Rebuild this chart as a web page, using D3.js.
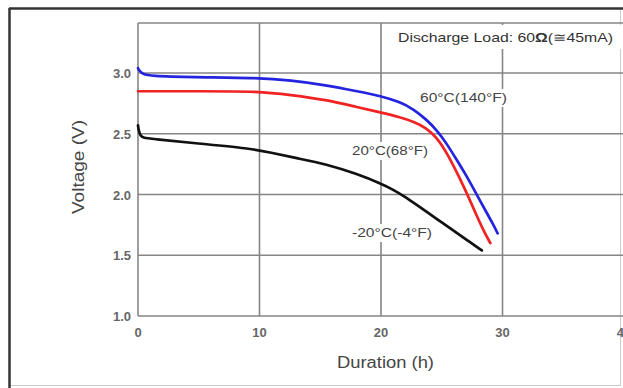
<!DOCTYPE html>
<html><head><meta charset="utf-8">
<script src="https://cdn.jsdelivr.net/npm/d3@7"></script>
<style>body{margin:0;background:#fff}svg{display:block}</style>
</head><body>
<svg id="c" width="623" height="388"></svg>
<script>
const xTicks = [0, 10, 20, 30, 40];
const yTicks = [1.0, 1.5, 2.0, 2.5, 3.0];
const seriesNames = ["60°C(140°F)", "20°C(68°F)", "-20°C(-4°F)"];
const seriesColors = ["#2424e0", "#f02222", "#111111"];
const hot60 = [[0,3.04],[0.1,3.02],[0.4,2.99],[1,2.975],[4.3,2.965],[10,2.96],[12.5,2.94],[15.5,2.90],[18,2.85],[20,2.81],[21.6,2.76],[22.7,2.70],[23.7,2.62],[24.6,2.53],[25.4,2.42],[26.2,2.29],[27,2.16],[27.6,2.05],[28.2,1.94],[28.7,1.85],[29.2,1.76],[29.6,1.68],[29.6,1.68]];
const room20 = [[0,2.85],[0.5,2.85],[5,2.85],[10,2.85],[12.5,2.82],[15.5,2.78],[18,2.72],[20,2.675],[21.6,2.635],[22.7,2.60],[23.7,2.55],[24.6,2.47],[25.5,2.33],[26.5,2.13],[27.2,1.98],[27.9,1.82],[28.5,1.69],[29.0,1.60],[29.0,1.60]];
const cold20 = [[0,2.57],[0.05,2.53],[0.2,2.48],[0.5,2.465],[1,2.46],[4.9,2.42],[9.2,2.38],[10.9,2.345],[13,2.30],[15.5,2.25],[18,2.17],[20,2.09],[21,2.04],[22,1.98],[23,1.91],[24,1.84],[25,1.77],[26,1.70],[27,1.63],[28.3,1.54],[28.3,1.54]];
const series = [hot60, room20, cold20];
const titleParts = ["Discharge Load: 60", "Ω", "(≅45mA)"];
const xLabel = "Duration (h)";
const yLabel = "Voltage (V)";

const svg = d3.select("#c");
const font = "Liberation Sans, Arial, sans-serif";
const L = 138, R = 624, T = 23, B = 316;
const x = d3.scaleLinear().domain([0, 40]).range([L, R]);
const y = d3.scaleLinear().domain([1.0, 3.0]).range([B, 73]);

// outer frame
svg.append("rect").attr("x", 9.5).attr("y", 8.5).attr("width", 611).attr("height", 377)
  .attr("fill", "none").attr("stroke", "#ccc").attr("stroke-width", 1);
svg.append("line").attr("x1", 9.5).attr("x2", 9.5).attr("y1", 8).attr("y2", 388).attr("stroke", "#333").attr("stroke-width", 2.5);
svg.append("line").attr("x1", 9).attr("x2", 623).attr("y1", 8.5).attr("y2", 8.5).attr("stroke", "#333").attr("stroke-width", 2.5);

const g = svg.append("g");
const gridCol = "#858585";
g.selectAll(".vg").data(xTicks).join("line")
  .attr("x1", d => x(d)).attr("x2", d => x(d)).attr("y1", T).attr("y2", B)
  .attr("stroke", gridCol).attr("stroke-width", 1.6);
g.selectAll(".hg").data(yTicks).join("line")
  .attr("x1", L).attr("x2", R).attr("y1", d => y(d)).attr("y2", d => y(d))
  .attr("stroke", gridCol).attr("stroke-width", 1.6);
g.append("line").attr("x1", L).attr("x2", R).attr("y1", T).attr("y2", T).attr("stroke", gridCol).attr("stroke-width", 1.6);

// tick labels
const tickStyle = s => s.attr("font-family", font).attr("font-size", 13).attr("fill", "#666").attr("font-weight", "bold");
g.selectAll(".yt").data(yTicks).join("text")
  .attr("x", 131).attr("y", d => y(d) + 5).attr("text-anchor", "end")
  .text(d => d3.format(".1f")(d)).call(tickStyle);
g.selectAll(".xt").data(xTicks).join("text")
  .attr("x", d => x(d)).attr("y", 337).attr("text-anchor", "middle")
  .text(d => d).call(tickStyle);

// axis titles
svg.append("text").attr("transform", "translate(84,167) rotate(-90)").attr("x", -47).attr("y", 0)
  .attr("textLength", 94).attr("lengthAdjust", "spacingAndGlyphs")
  .attr("font-family", font).attr("font-size", 16).attr("fill", "#444").text(yLabel);
svg.append("text").attr("x", 337).attr("y", 368)
  .attr("textLength", 97).attr("lengthAdjust", "spacingAndGlyphs")
  .attr("font-family", font).attr("font-size", 16).attr("fill", "#444").text(xLabel);

// curves
const line = d3.line().x(d => x(d[0])).y(d => y(d[1])).curve(d3.curveBasis);
g.selectAll(".s").data(series).join("path")
  .attr("d", line).attr("fill", "none")
  .attr("stroke", (d, i) => seriesColors[i]).attr("stroke-width", 2.7)
  .attr("stroke-linejoin", "round").attr("stroke-linecap", "round");

// labels with white backing
function label(txt, x0, x1, by, pad) {
  svg.append("rect").attr("x", x0 - pad).attr("y", by - 13).attr("width", x1 - x0 + 2 * pad).attr("height", 18).attr("fill", "#fff");
  svg.append("text").attr("x", x0).attr("y", by)
    .attr("textLength", x1 - x0).attr("lengthAdjust", "spacingAndGlyphs")
    .attr("font-family", font).attr("font-size", 13).attr("fill", "#444").text(txt);
}
// discharge load title box
svg.append("rect").attr("x", 395).attr("y", 25).attr("width", 226).attr("height", 24).attr("fill", "#fff");
const tt = svg.append("text").attr("x", 398).attr("y", 42)
  .attr("textLength", 215).attr("lengthAdjust", "spacingAndGlyphs")
  .attr("font-family", font).attr("font-size", 13).attr("fill", "#333");
tt.append("tspan").text(titleParts[0]);
tt.append("tspan").attr("font-weight", "bold").text(titleParts[1]);
tt.append("tspan").text(titleParts[2]);

label(seriesNames[0], 420, 507, 102, 0);
label(seriesNames[1], 352, 428, 155, 1);
label(seriesNames[2], 352, 432, 237, 1);
</script>
</body></html>
